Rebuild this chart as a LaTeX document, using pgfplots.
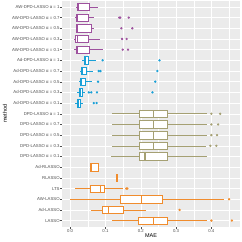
\documentclass[border=0pt]{standalone}
\usepackage{fontspec}
\setmainfont{Liberation Sans}
\usepackage{pgfplots}
\pgfplotsset{compat=1.18}
\usepgfplotslibrary{statistics}
\definecolor{cpur}{RGB}{158,82,158}
\definecolor{cblu}{RGB}{25,160,215}
\definecolor{coli}{RGB}{165,160,115}
\definecolor{cora}{RGB}{240,140,45}
\definecolor{panel}{RGB}{235,235,235}
\definecolor{tickc}{RGB}{77,77,77}
\begin{document}
\begin{tikzpicture}
\begin{axis}[
 at={(0,0)}, anchor=south west,
 scale only axis, width=178pt, height=226.5pt,
 xmin=-0.023, xmax=0.481, ymin=0.4, ymax=21.6, y dir=reverse,
 xtick={0,0.1,0.2,0.3,0.4}, xticklabels={0.0,0.1,0.2,0.3,0.4},
 minor xtick={0.05,0.15,0.25,0.35,0.45},
 ytick={1,...,21},
 yticklabels={AW-DPD-LASSO α = 1,AW-DPD-LASSO α = 0.7,AW-DPD-LASSO α = 0.5,AW-DPD-LASSO α = 0.3,AW-DPD-LASSO α = 0.1,
 Ad-DPD-LASSO α = 1,Ad-DPD-LASSO α = 0.7,Ad-DPD-LASSO α = 0.5,Ad-DPD-LASSO α = 0.3,Ad-DPD-LASSO α = 0.1,
 DPD-LASSO α = 1,DPD-LASSO α = 0.7,DPD-LASSO α = 0.5,DPD-LASSO α = 0.3,DPD-LASSO α = 0.1,
 Ad-RLASSO,RLASSO,LTS,AW-LASSO,Ad-LASSO,LASSO},
 xtick pos=bottom, ytick pos=left,
 grid=both, major grid style={white, line width=0.5pt}, minor grid style={white, line width=0.25pt},
 axis background/.style={fill=panel},
 axis line style={draw=none},
 tick align=outside, major tick length=1.8pt, minor tick length=0pt,
 tick style={tickc, line width=0.4pt},
 ticklabel style={font=\fontsize{4.3}{5}\selectfont, text=tickc},
 yticklabel style={inner sep=0.4pt},
 xticklabel style={inner sep=0.6pt},
 xlabel={MAE}, ylabel={method},
 every axis x label/.style={at={(axis description cs:0.5,0)}, yshift=-9pt, anchor=center, font=\fontsize{5.5}{6}\selectfont},
 every axis y label/.style={at={(axis description cs:0,0.5)}, xshift=-57pt, rotate=90, anchor=center, font=\fontsize{5.5}{6}\selectfont},
 boxplot/draw direction=x,
 boxplot/box extend=0.7, boxplot/whisker extend=0,
 boxplot/every median/.style={line width=1.1pt},
 every axis plot/.append style={line width=0.6pt},
]
% AW-DPD-LASSO
\addplot[boxplot prepared={draw position=1, lower whisker=0.017, lower quartile=0.021, median=0.023, upper quartile=0.055, upper whisker=0.078}, draw=cpur, fill=white] coordinates {};
\addplot[boxplot prepared={draw position=2, lower whisker=0.015, lower quartile=0.017, median=0.020, upper quartile=0.052, upper whisker=0.067}, draw=cpur, fill=white] coordinates {};
\addplot[boxplot prepared={draw position=3, lower whisker=0.016, lower quartile=0.018, median=0.021, upper quartile=0.059, upper whisker=0.068}, draw=cpur, fill=white] coordinates {};
\addplot[boxplot prepared={draw position=4, lower whisker=0.012, lower quartile=0.016, median=0.020, upper quartile=0.051, upper whisker=0.086}, draw=cpur, fill=white] coordinates {};
\addplot[boxplot prepared={draw position=5, lower whisker=0.012, lower quartile=0.017, median=0.021, upper quartile=0.054, upper whisker=0.093}, draw=cpur, fill=white] coordinates {};
\addplot[only marks, mark=*, mark size=0.85pt, cpur] coordinates {(0.139,2) (0.142,2) (0.166,2) (0.145,3) (0.176,3) (0.147,4) (0.160,4) (0.149,5) (0.164,5)};
% Ad-DPD-LASSO
\addplot[boxplot prepared={draw position=6, lower whisker=0.034, lower quartile=0.039, median=0.044, upper quartile=0.051, upper whisker=0.073}, draw=cblu, fill=white] coordinates {};
\addplot[boxplot prepared={draw position=7, lower whisker=0.029, lower quartile=0.031, median=0.036, upper quartile=0.045, upper whisker=0.064}, draw=cblu, fill=white] coordinates {};
\addplot[boxplot prepared={draw position=8, lower whisker=0.025, lower quartile=0.028, median=0.032, upper quartile=0.043, upper whisker=0.063}, draw=cblu, fill=white] coordinates {};
\addplot[boxplot prepared={draw position=9, lower whisker=0.020, lower quartile=0.025, median=0.028, upper quartile=0.034, upper whisker=0.042}, draw=cblu, fill=white] coordinates {};
\addplot[boxplot prepared={draw position=10, lower whisker=0.013, lower quartile=0.020, median=0.024, upper quartile=0.029, upper whisker=0.036}, draw=cblu, fill=white] coordinates {};
\addplot[only marks, mark=*, mark size=0.85pt, cblu] coordinates {(0.092,6) (0.253,6) (0.081,7) (0.086,7) (0.247,7) (0.079,8) (0.241,8) (0.053,9) (0.060,9) (0.076,9) (0.233,9) (0.067,10) (0.075,10)};
% DPD-LASSO
\addplot[boxplot prepared={draw position=11, lower whisker=0.119, lower quartile=0.195, median=0.236, upper quartile=0.275, upper whisker=0.387}, draw=coli, fill=white] coordinates {};
\addplot[boxplot prepared={draw position=12, lower whisker=0.119, lower quartile=0.195, median=0.236, upper quartile=0.275, upper whisker=0.387}, draw=coli, fill=white] coordinates {};
\addplot[boxplot prepared={draw position=13, lower whisker=0.119, lower quartile=0.195, median=0.236, upper quartile=0.275, upper whisker=0.387}, draw=coli, fill=white] coordinates {};
\addplot[boxplot prepared={draw position=14, lower whisker=0.119, lower quartile=0.195, median=0.236, upper quartile=0.275, upper whisker=0.386}, draw=coli, fill=white] coordinates {};
\addplot[boxplot prepared={draw position=15, lower whisker=0.116, lower quartile=0.195, median=0.212, upper quartile=0.275, upper whisker=0.387}, draw=coli, fill=white] coordinates {};
\addplot[only marks, mark=*, mark size=0.85pt, coli] coordinates {(0.400,11) (0.425,11) (0.400,12) (0.419,12) (0.400,13) (0.416,13) (0.397,14) (0.414,14)};
% others
\addplot[boxplot prepared={draw position=16, lower whisker=0.055, lower quartile=0.058, median=0.061, upper quartile=0.079, upper whisker=0.081}, draw=cora, fill=white] coordinates {};
\addplot[boxplot prepared={draw position=17, lower whisker=0.1318, lower quartile=0.1318, median=0.132, upper quartile=0.1322, upper whisker=0.1322}, draw=cora, fill=white] coordinates {};
\addplot[boxplot prepared={draw position=18, lower whisker=0.013, lower quartile=0.058, median=0.087, upper quartile=0.098, upper whisker=0.151}, draw=cora, fill=white] coordinates {};
\addplot[boxplot prepared={draw position=19, lower whisker=0.001, lower quartile=0.142, median=0.201, upper quartile=0.261, upper whisker=0.437}, draw=cora, fill=white] coordinates {};
\addplot[boxplot prepared={draw position=20, lower whisker=0.058, lower quartile=0.090, median=0.108, upper quartile=0.150, upper whisker=0.214}, draw=cora, fill=white] coordinates {};
\addplot[boxplot prepared={draw position=21, lower whisker=0.119, lower quartile=0.194, median=0.236, upper quartile=0.275, upper whisker=0.387}, draw=cora, fill=white] coordinates {};
\addplot[only marks, mark=*, mark size=0.85pt, cora] coordinates {(0.159,18) (0.162,18) (0.450,19) (0.310,20) (0.400,21) (0.458,21)};
\end{axis}
\pgfresetboundingbox
\path[use as bounding box] (-62pt,-15pt) rectangle (180pt,227pt);
\end{tikzpicture}
\end{document}
